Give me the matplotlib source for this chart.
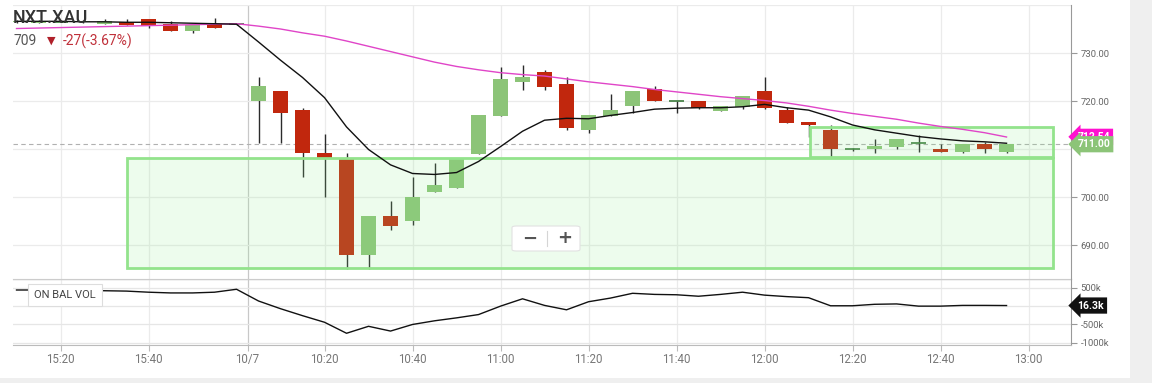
import matplotlib.pyplot as plt
import matplotlib.transforms as mtransforms
from matplotlib.patches import Rectangle, FancyBboxPatch
from matplotlib.lines import Line2D

plt.rcParams['font.family'] = ['Roboto', 'DejaVu Sans']

# candle slots (5 min each), 15:20 = slot 0
slots = list(range(-2, 44))
opens = [736.4, 736.3, 736.5, 736.4, 736.1, 736.4, 737.1, 736.1, 734.5, 736.0, 736.0,
         720.1, 722.1, 718.1, 709.1, 708.0, 687.9, 696.0, 695.1, 701.1, 701.9, 709.0,
         716.9, 724.0, 726.0, 723.5, 714.0, 716.9, 719.0, 722.5, 720.0, 720.0, 718.0,
         718.8, 722.1, 718.1, 715.6, 714.0, 709.9, 710.1, 710.5, 711.2, 709.9, 709.4,
         711.0, 709.4]
highs = [736.8, 736.8, 736.9, 736.8, 737.1, 737.1, 737.1, 736.6, 735.8, 737.2, 736.1,
         725.1, 722.1, 718.5, 713.1, 709.1, 696.0, 699.2, 704.1, 707.0, 708.1, 717.1,
         727.1, 727.5, 726.5, 724.9, 717.1, 721.5, 722.1, 723.1, 720.0, 720.0, 719.0,
         721.0, 725.1, 718.8, 715.6, 715.0, 710.3, 712.0, 712.0, 712.9, 711.0, 711.0,
         711.5, 711.0]
lows = [736.3, 736.2, 736.4, 736.3, 736.1, 735.9, 735.2, 734.5, 734.1, 735.2, 735.9,
        711.2, 711.2, 704.2, 700.1, 685.1, 685.1, 693.1, 694.2, 701.1, 701.9, 709.0,
        716.9, 722.2, 722.2, 714.0, 713.3, 716.9, 717.4, 720.1, 717.6, 718.3, 718.0,
        718.3, 718.3, 715.5, 712.6, 708.4, 709.6, 709.2, 710.0, 709.4, 709.4, 709.2,
        709.2, 709.2]
closes = [736.6, 736.7, 736.5, 736.6, 736.6, 735.9, 735.6, 734.5, 735.8, 735.2, 736.0,
          723.1, 717.6, 709.1, 708.0, 687.9, 696.0, 694.0, 700.1, 702.5, 708.1, 717.1,
          724.6, 725.1, 723.0, 714.4, 717.1, 718.1, 722.1, 720.1, 720.0, 718.6, 719.0,
          721.0, 718.6, 715.5, 715.1, 710.1, 709.9, 710.6, 712.0, 711.2, 709.4, 711.0,
          710.0, 711.0]
# moving averages
ma_short = [736.6, 736.6, 736.6, 736.5, 736.5, 736.4, 736.4, 736.3, 736.2, 736.1, 736.0,
            732.3, 728.5, 724.9, 720.7, 714.6, 709.9, 706.7, 704.9, 704.7, 705.1, 707.4,
            710.5, 713.7, 716.0, 716.4, 716.3, 717.0, 717.6, 718.3, 718.5, 718.6, 718.6,
            718.8, 719.3, 718.6, 718.1, 716.7, 715.0, 714.0, 713.3, 712.6, 712.1, 711.7,
            711.5, 711.2]
ma_long = [735.1, 735.2, 735.3, 735.4, 735.5, 735.6, 735.7, 735.8, 735.9, 736.0, 736.1,
           735.6, 735.0, 734.2, 733.5, 732.5, 731.4, 730.3, 729.2, 728.1, 727.2, 726.5,
           725.9, 725.5, 725.2, 724.6, 724.0, 723.5, 723.0, 722.4, 721.9, 721.4, 720.9,
           720.5, 720.1, 719.6, 718.9, 718.1, 717.4, 716.8, 716.2, 715.4, 714.7, 714.1,
           713.4, 712.5]
obv = [440e3, 440e3, 430e3, 425e3, 420e3, 410e3, 380e3, 360e3, 360e3, 380e3, 460e3,
       140e3, -70e3, -260e3, -440e3, -740e3, -550e3, -680e3, -500e3, -400e3, -320e3, -230e3,
       0, 200e3, 20e3, -100e3, 120e3, 220e3, 350e3, 320e3, 310e3, 270e3, 320e3,
       380e3, 300e3, 260e3, 230e3, 10e3, 10e3, 50e3, 60e3, 0, 0, 20e3,
       20e3, 16.3e3]

tick_pos = [0, 4, 8.5, 12, 16, 20, 24, 28, 32, 36, 40, 44]
tick_lab = ['15:20', '15:40', '10/7', '10:20', '10:40', '11:00', '11:20', '11:40',
            '12:00', '12:20', '12:40', '13:00']

# zones (slot from, slot to, low, high)
zone_big = [3.02, 45.11, 685.2, 708.1]
zone_small = [34.07, 45.11, 708.3, 714.6]

last_price = 711.00
last_ma = 712.54
last_obv = 16.3e3

W, H = 1152, 383
fig = plt.figure(figsize=(W / 100, H / 100), dpi=100)
fig.patch.set_facecolor('#efefef')
fig.add_artist(Rectangle((0, 1 - 378 / H), 1130 / W, 378 / H, transform=fig.transFigure,
                         fc='white', ec='none', zorder=0))

ax = fig.add_axes([13 / W, 1 - 279 / H, 1058 / W, 274 / H])
ax2 = fig.add_axes([13 / W, 1 - 345 / H, 1058 / W, 66 / H])
for a in (ax, ax2):
    a.set_facecolor('none')
    a.set_xlim(-2.16, 45.93)
    a.set_xticks(tick_pos)
    for s in ('left', 'top'):
        a.spines[s].set_visible(False)
    a.spines['right'].set_color('#999999')
    a.spines['bottom'].set_color('#bbbbbb')
    a.yaxis.tick_right()
    a.tick_params(axis='y', length=4, color='#999999', labelcolor='#666666', labelsize=6.8, pad=3)
    for p in tick_pos:
        a.axvline(p, color='#c8c8c8' if p == 8.5 else '#ebebeb', lw=0.9, zorder=0)

# main price panel
ax.set_ylim(682.92, 740.0)
ax.set_yticks([690, 700, 720, 730])
ax.set_yticklabels(['690.00', '700.00', '720.00', '730.00'])
for v in [690, 700, 710, 720, 730, 740]:
    ax.axhline(v, color='#ebebeb', lw=0.9, zorder=0)
ax.tick_params(axis='x', length=0, labelbottom=False)

green, red = '#8cc478', '#c1270d'
for x, o, h, l, c in zip(slots, opens, highs, lows, closes):
    ax.vlines(x, l, h, color='#2b2b2b', lw=1, zorder=2)
    if o == c:
        ax.hlines(o, x - 0.34, x + 0.34, color='#3b7a3b', lw=1.2, zorder=3)
    else:
        ax.bar(x, abs(c - o), bottom=min(o, c), width=0.66,
               color=green if c > o else red, zorder=3)

ax.axhline(last_price, color='#b0b0b0', lw=0.8, ls=(0, (4, 3)), zorder=1)

for z in (zone_big, zone_small):
    ax.add_patch(Rectangle((z[0], z[2]), z[1] - z[0], z[3] - z[2],
                           fc=(0.56, 0.93, 0.56, 0.16), ec='#93e38c', lw=2, zorder=4))

ax.plot(slots, ma_long, color='#e045c8', lw=1, zorder=5)
ax.plot(slots, ma_short, color='#111111', lw=1, zorder=5)

tr = mtransforms.blended_transform_factory(ax.transAxes, ax.transData)
ax.text(1.006, last_ma, f'{last_ma:.2f}', transform=tr, color='white', fontsize=7.5,
        fontweight='bold', va='center', ha='left', clip_on=False, zorder=6,
        bbox=dict(boxstyle='larrow,pad=0.3', fc='#ff10d0', ec='none'))
ax.text(1.006, last_price, f'{last_price:.2f}', transform=tr, color='white', fontsize=7.5,
        fontweight='bold', va='center', ha='left', clip_on=False, zorder=7,
        bbox=dict(boxstyle='larrow,pad=0.3', fc='#8cc478', ec='none'))

# OBV panel
ax2.set_ylim(-1060e3, 740e3)
ax2.set_yticks([500e3, -500e3, -1000e3])
ax2.set_yticklabels(['500k', '-500k', '-1000k'])
for v in [500e3, 0, -500e3, -1000e3]:
    ax2.axhline(v, color='#e6e6e6', lw=0.9, zorder=0)
ax2.axhline(740e3, color='#cccccc', lw=1, zorder=0)
ax2.set_xticklabels(tick_lab)
ax2.tick_params(axis='x', length=4, color='#bbbbbb', labelcolor='#777777', labelsize=8.3, pad=2)
ax2.plot(slots, obv, color='#111111', lw=1, zorder=3)
tr2 = mtransforms.blended_transform_factory(ax2.transAxes, ax2.transData)
ax2.text(1.006, last_obv, '16.3k', transform=tr2, color='white', fontsize=7.5,
         fontweight='bold', va='center', ha='left', clip_on=False, zorder=6,
         bbox=dict(boxstyle='larrow,pad=0.3', fc='#111111', ec='none'))
fig.text(34 / W, 1 - 295 / H, 'ON BAL VOL', fontsize=8, color='#444444', va='center',
         bbox=dict(boxstyle='square,pad=0.55', fc='white', ec='#dddddd', lw=0.8))

# header
fig.text(13 / W, 1 - 18 / H, 'NXT.XAU', fontsize=13, color='#333333', va='center',
         fontweight='medium', zorder=8)
fig.text(13 / W, 1 - 41 / H, '709', fontsize=10, color='#555555', va='center')
fig.text(47 / W, 1 - 41 / H, '▼', fontsize=8, color='#b0202a', va='center',
         family='DejaVu Sans')
fig.text(63 / W, 1 - 41 / H, '-27(-3.67%)', fontsize=10, color='#c0303a', va='center')

# zoom buttons
fig.add_artist(FancyBboxPatch((512 / W, 1 - 251 / H), 68 / W, 25 / H, transform=fig.transFigure,
                              boxstyle='round,pad=0,rounding_size=0.004', fc='white',
                              ec='#e2e2e2', lw=0.8, zorder=9))
fig.add_artist(Line2D([547 / W, 547 / W], [1 - 246 / H, 1 - 231 / H], transform=fig.transFigure,
                      color='#d5d5d5', lw=0.8, zorder=10))
fig.text(530 / W, 1 - 238.5 / H, '−', fontsize=13, fontweight='bold', color='#555555',
         ha='center', va='center', zorder=10, family='DejaVu Sans')
fig.text(565 / W, 1 - 238.5 / H, '+', fontsize=13, fontweight='bold', color='#555555',
         ha='center', va='center', zorder=10, family='DejaVu Sans')

fig.savefig('out.png', dpi=100)
